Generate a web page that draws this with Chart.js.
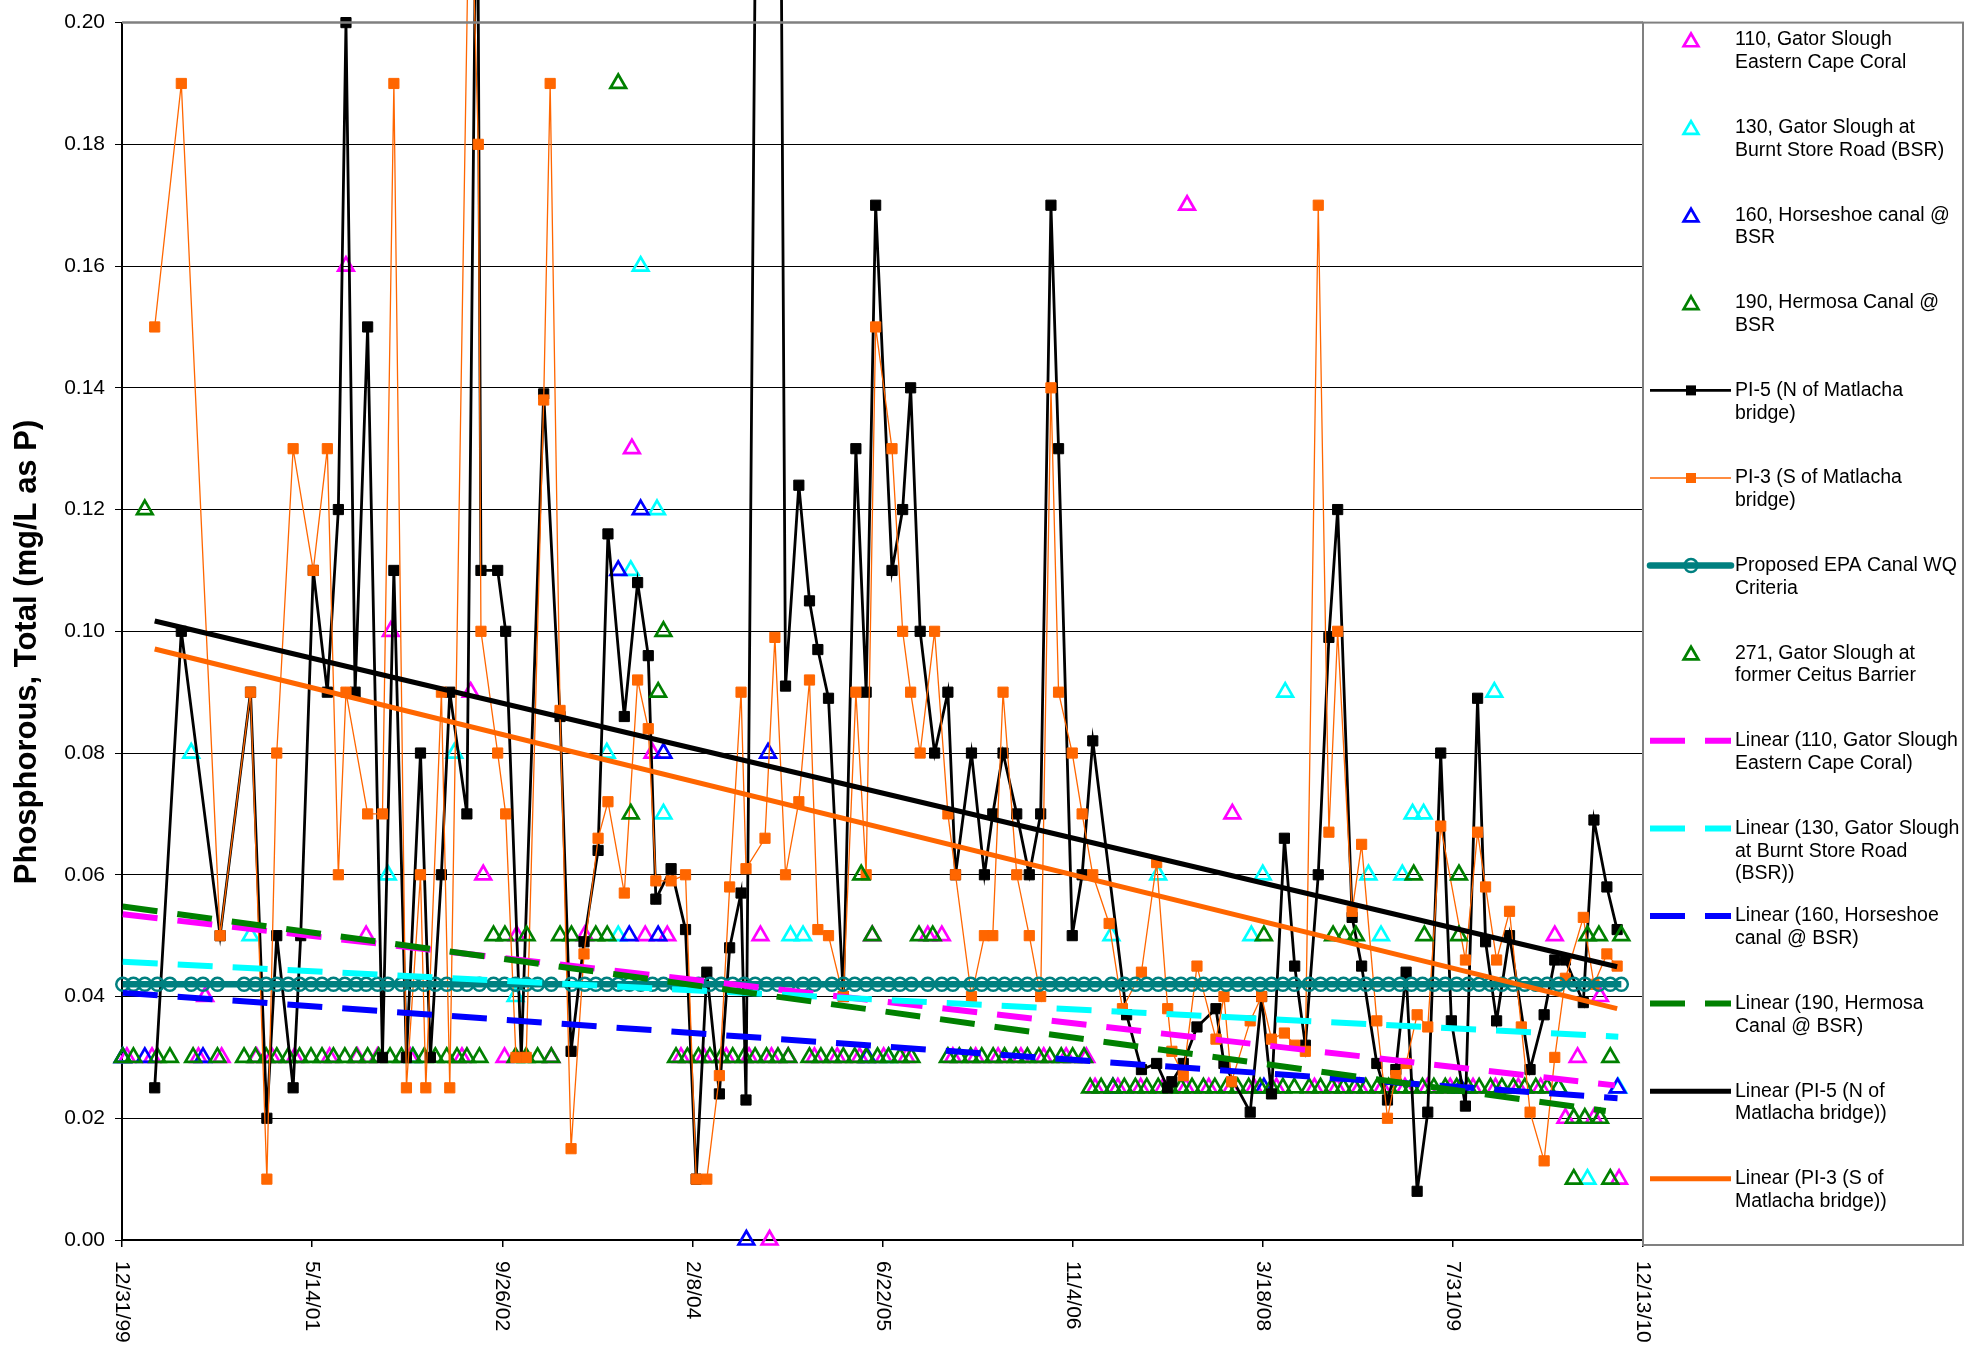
<!DOCTYPE html>
<html><head><meta charset="utf-8">
<script src="https://cdn.jsdelivr.net/npm/chart.js@4/dist/chart.umd.min.js"></script>
<style>html,body{margin:0;padding:0;background:#fff;overflow:hidden}</style>
</head><body>
<canvas id="c" width="1974" height="1345"></canvas>
<script>
// ---------------- DATA (x = Excel serial date, y = mg/L) ----------------
const xTickLabels = ['12/31/99','5/14/01','9/26/02','2/8/04','6/22/05','11/4/06','3/18/08','7/31/09','12/13/10'];
const xMin = 36525, xMax = 40525, xStep = 500;
const yMin = 0, yMax = 0.2, yStep = 0.02;

const seriesNames = [
  ['110, Gator Slough','Eastern Cape Coral'],
  ['130, Gator Slough at','Burnt Store Road (BSR)'],
  ['160, Horseshoe canal @','BSR'],
  ['190, Hermosa Canal @','BSR'],
  ['PI-5 (N of Matlacha','bridge)'],
  ['PI-3 (S of Matlacha','bridge)'],
  ['Proposed EPA Canal WQ','Criteria'],
  ['271, Gator Slough at','former Ceitus Barrier'],
  ['Linear (110, Gator Slough','Eastern Cape Coral)'],
  ['Linear (130, Gator Slough','at Burnt Store Road','(BSR))'],
  ['Linear (160, Horseshoe','canal @ BSR)'],
  ['Linear (190, Hermosa','Canal @ BSR)'],
  ['Linear (PI-5 (N of','Matlacha bridge))'],
  ['Linear (PI-3 (S of','Matlacha bridge))']
];

const s110Dates = [36527,36538,36604,36726,36744,36787,36879,36919,36979,37071,37114,37144,37167,37197,37232,37283,37419,37442,37475,
  37531,37563,37654,37742,37866,37901,37920,37959,37995,38055,38114,38174,38204,38228,38233,38277,
  38346,38406,38465,38498,38528,38588,38644,38681,38710,38770,38829,38889,38949,39008,39061,
  39084,39144,39204,39263,39323,39326,39383,39442,39445,39502,39561,39661,39720,39780,39839,39899,39958,40018,40078,40137,40197,40256,
  40293,40321,40353,40396,40412,40462];
const s110Vals = [0.03,0.03,0.03,0.03,0.04,0.03,0.03,0.03,0.03,0.03,0.16,0.03,0.05,0.03,0.10,0.03,0.03,0.09,0.06,
  0.03,0.05,0.03,0.05,0.13,0.05,0.08,0.05,0.03,0.03,0.03,0.03,0.05,0.00,0.03,0.03,
  0.03,0.03,0.03,0.05,0.03,0.03,0.05,0.05,0.03,0.03,0.03,0.03,0.03,0.03,0.03,
  0.025,0.025,0.025,0.025,0.025,0.17,0.025,0.025,0.07,0.025,0.025,0.025,0.025,0.025,0.025,0.025,0.025,0.025,0.025,0.025,0.025,0.025,
  0.05,0.02,0.03,0.02,0.04,0.01];

const s130Dates = [36527,36707,36863,37224,37290,37399,37560,37800,37830,37863,37889,37932,37949,38283,38316,38541,39127,39250,
  39495,39525,39584,39803,39836,39892,39919,39948,40134,40303,40379,40460];
const s130Vals = [0.03,0.08,0.05,0.06,0.03,0.08,0.04,0.08,0.05,0.11,0.16,0.12,0.07,0.05,0.05,0.03,0.05,0.06,
  0.05,0.06,0.09,0.06,0.05,0.06,0.07,0.07,0.09,0.025,0.01,0.025];

const s160Dates = [36527,36585,36738,37830,37859,37889,37935,37949,38167,38224,38485,39131,39528,40045,40458];
const s160Vals = [0.03,0.03,0.03,0.11,0.05,0.12,0.05,0.08,0.00,0.08,0.03,0.025,0.025,0.025,0.025];

const s190Dates = [36527,36555,36618,36651,36712,36776,
  36846,36876,36904,36932,36962,36992,37022,37051,37081,37111,37141,37171,37200,37230,37260,37290,37320,37349,37379,37406,37432,
  37465,37502,37532,37560,37588,37618,37654,37677,37707,37771,37801,
  37982,38012,38041,38071,38101,38131,38161,38190,38220,38250,38277,
  38333,38363,38392,38422,38452,38482,38498,38512,38541,38571,38601,38621,38657,
  38697,38727,38757,38786,38816,38846,38876,38906,38936,38965,38995,39025,39055,
  39071,39100,39131,39161,39190,39220,39250,39280,39310,39339,39369,39399,39429,39459,39488,39518,39548,39578,39608,
  39647,39677,39707,39737,39767,39796,39826,39856,39886,39916,39945,39975,40005,40035,40065,40094,40124,40154,40184,40214,40243,40273,40303,
  40343,40372,40412,40439];
const s190Vals = [0.03,0.03,0.03,0.03,0.03,0.03,
  0.03,0.03,0.03,0.03,0.03,0.03,0.03,0.03,0.03,0.03,0.03,0.03,0.03,0.03,0.03,0.03,0.03,0.03,0.03,0.03,0.03,
  0.03,0.05,0.05,0.03,0.03,0.03,0.03,0.05,0.05,0.05,0.05,
  0.03,0.03,0.03,0.03,0.03,0.03,0.03,0.03,0.03,0.03,0.03,
  0.03,0.03,0.03,0.03,0.03,0.03,0.05,0.03,0.03,0.03,0.03,0.05,0.05,
  0.03,0.03,0.03,0.03,0.03,0.03,0.03,0.03,0.03,0.03,0.03,0.03,0.03,
  0.025,0.025,0.025,0.025,0.025,0.025,0.025,0.025,0.025,0.025,0.025,0.025,0.025,0.025,0.025,0.025,0.025,0.025,0.025,
  0.025,0.025,0.025,0.025,0.025,0.025,0.025,0.025,0.025,0.025,0.025,0.025,0.025,0.025,0.025,0.025,0.025,0.025,0.025,0.025,0.025,0.025,0.025,
  0.02,0.02,0.02,0.01];

const s271Dates = [36585,37589,37830,37863,37935,37949,38469,39528,39710,39740,39770,39922,39950,40041,40041,40343,40379,40409,40439,40468];
const s271Vals  = [0.12,0.05,0.19,0.07,0.09,0.10,0.06,0.05,0.05,0.05,0.05,0.06,0.05,0.06,0.05,0.01,0.05,0.05,0.03,0.05];

const pi5Dates = [36611,36681,36783,36863,36906,36932,36975,36995,37028,37065,37094,37114,37138,37171,37210,37240,37273,37310,37336,37365,
  37387,37432,37459,37469,37513,37534,37575,37634,37677,37706,37740,37777,37803,37846,37881,37909,37929,37969,38007,38035,
  38063,38096,38123,38153,38166,38230,38270,38305,38333,38355,38383,38422,38455,38482,38507,38550,38578,38599,38624,38662,
  38697,38717,38759,38793,38815,38842,38878,38911,38941,38968,38988,39024,39050,39078,39167,39206,39246,39275,39286,39316,
  39352,39402,39423,39492,39522,39548,39582,39609,39637,39671,39699,39722,39760,39785,39825,39853,39875,39902,39931,39959,
  39993,40021,40058,40090,40111,40140,40174,40228,40265,40293,40321,40368,40396,40430,40457];
const pi5Vals = [0.025,0.100,0.050,0.090,0.020,0.050,0.025,0.050,0.110,0.090,0.120,0.200,0.090,0.150,0.030,0.110,0.030,0.080,0.030,0.060,
  0.090,0.070,0.240,0.110,0.110,0.100,0.030,0.139,0.086,0.031,0.049,0.064,0.116,0.086,0.108,0.096,0.056,0.061,0.051,0.010,
  0.044,0.024,0.048,0.057,0.023,0.520,0.091,0.124,0.105,0.097,0.089,0.040,0.130,0.090,0.170,0.110,0.120,0.140,0.100,0.080,
  0.090,0.060,0.080,0.060,0.070,0.080,0.070,0.060,0.070,0.170,0.130,0.050,0.060,0.082,0.037,0.028,0.029,0.025,0.026,0.029,
  0.035,0.038,0.029,0.021,0.040,0.024,0.066,0.045,0.032,0.060,0.099,0.120,0.053,0.045,0.029,0.023,0.028,0.044,0.008,0.021,
  0.080,0.036,0.022,0.089,0.049,0.036,0.050,0.028,0.037,0.046,0.046,0.039,0.069,0.058,0.051];

const pi3Dates = [36611,36681,36783,36863,36906,36932,36975,37028,37065,37094,37114,37171,37210,37240,37273,37310,37324,37365,37387,37440,
  37462,37469,37513,37534,37561,37588,37634,37651,37677,37706,37740,37777,37803,37846,37881,37909,37929,37969,38007,38035,
  38063,38096,38123,38153,38166,38216,38242,38270,38305,38333,38355,38383,38422,38455,38482,38507,38550,38578,38599,38624,
  38662,38697,38717,38759,38793,38815,38842,38878,38911,38941,38968,38988,39024,39050,39078,39121,39156,39206,39246,39275,
  39286,39316,39352,39402,39423,39443,39492,39522,39548,39582,39609,39637,39671,39699,39722,39760,39785,39825,39853,39875,
  39902,39931,39959,39993,40058,40090,40111,40140,40174,40205,40228,40265,40293,40321,40368,40396,40430,40457];
const pi3Vals = [0.150,0.190,0.050,0.090,0.010,0.080,0.130,0.110,0.130,0.060,0.090,0.070,0.070,0.190,0.025,0.060,0.025,0.090,0.025,0.230,
  0.180,0.100,0.080,0.070,0.030,0.030,0.138,0.190,0.087,0.015,0.047,0.066,0.072,0.057,0.092,0.084,0.059,0.059,0.060,0.010,
  0.010,0.027,0.058,0.090,0.061,0.066,0.099,0.060,0.072,0.092,0.051,0.050,0.040,0.090,0.060,0.150,0.130,0.100,0.090,0.080,
  0.100,0.070,0.060,0.040,0.050,0.050,0.090,0.060,0.050,0.040,0.140,0.090,0.080,0.070,0.060,0.052,0.038,0.044,0.062,0.038,
  0.031,0.027,0.045,0.033,0.040,0.026,0.036,0.040,0.033,0.034,0.032,0.031,0.170,0.067,0.100,0.054,0.065,0.036,0.020,0.027,
  0.029,0.037,0.035,0.068,0.046,0.067,0.058,0.046,0.054,0.035,0.021,0.013,0.030,0.043,0.053,0.042,0.047,0.045];

const epaCriterion = 0.042;

// Linear trendlines: [start date, end date], [start value, end value]
const trend110Dates = [36527, 40451], trend110Vals = [0.0535, 0.0254];
const trend130Dates = [36527, 40460], trend130Vals = [0.0457, 0.0334];
const trend160Dates = [36527, 40458], trend160Vals = [0.0406, 0.0233];
const trend190Dates = [36527, 40427], trend190Vals = [0.0548, 0.0212];
const trendPI5Dates = [36611, 40457], trendPI5Vals = [0.1017, 0.0449];
const trendPI3Dates = [36611, 40457], trendPI3Vals = [0.0971, 0.0380];

// ---------------- CHART ----------------
const FONT = "'Liberation Sans', Arial, Helvetica, sans-serif";
const C = {mag:'#FF00FF', cyan:'#00FFFF', blue:'#0000FF', green:'#008000', black:'#000000', orange:'#FF6600', teal:'#008080'};

function pts(d, v) { return d.map((x, i) => ({x: x, y: v[i]})); }

// EPA criterion plotted at the (station) sampling dates
const allStationDates = [].concat(s110Dates, s130Dates, s160Dates, s190Dates, s271Dates).sort((a, b) => a - b);
const epaDates = [];
allStationDates.forEach(d => { if (!epaDates.length || d - epaDates[epaDates.length - 1] >= 26) epaDates.push(d); });

const TRI_R = 9;
function triSet(label, d, v, color, order) {
  return {label, data: pts(d, v), showLine: false, pointStyle: 'triangle', pointRadius: TRI_R,
    pointBorderWidth: 2.7, pointBorderColor: color, pointBackgroundColor: 'rgba(0,0,0,0)',
    borderColor: color, backgroundColor: 'rgba(0,0,0,0)', clip: false, order};
}
function trendSet(label, d, v, color, dash, width, order) {
  return {label, data: pts(d, v), showLine: true, pointRadius: 0, borderColor: color, borderWidth: width,
    borderDash: dash, borderCapStyle: 'butt', fill: false, clip: false, order};
}

const datasets = [
  triSet(seriesNames[0].join(' '), s110Dates, s110Vals, C.mag, 20),
  triSet(seriesNames[1].join(' '), s130Dates, s130Vals, C.cyan, 19),
  triSet(seriesNames[2].join(' '), s160Dates, s160Vals, C.blue, 18),
  triSet(seriesNames[3].join(' '), s190Dates, s190Vals, C.green, 17),
  {label: seriesNames[4].join(' '), data: pts(pi5Dates, pi5Vals), showLine: true, borderColor: C.black, borderWidth: 2.8,
   pointStyle: 'rect', pointRadius: 7.2, pointBackgroundColor: C.black, pointBorderColor: C.black, pointBorderWidth: 1,
   tension: 0, clip: false, order: 16},
  {label: seriesNames[5].join(' '), data: pts(pi3Dates, pi3Vals), showLine: true, borderColor: C.orange, borderWidth: 1.3,
   pointStyle: 'rect', pointRadius: 7.2, pointBackgroundColor: C.orange, pointBorderColor: C.orange, pointBorderWidth: 1,
   tension: 0, clip: false, order: 15},
  {label: seriesNames[6].join(' '), data: epaDates.map(x => ({x, y: epaCriterion})), showLine: true, borderColor: C.teal,
   borderWidth: 6.5, pointStyle: 'circle', pointRadius: 6.5, pointBorderWidth: 2.5, pointBorderColor: C.teal,
   pointBackgroundColor: 'rgba(0,0,0,0)', clip: false, order: 14},
  triSet(seriesNames[7].join(' '), s271Dates, s271Vals, C.green, 13),
  trendSet(seriesNames[8].join(' '), trend110Dates, trend110Vals, C.mag, [35, 20], 6, 12),
  trendSet(seriesNames[9].join(' '), trend130Dates, trend130Vals, C.cyan, [35, 20], 6, 11),
  trendSet(seriesNames[10].join(' '), trend160Dates, trend160Vals, C.blue, [35, 20], 6, 10),
  trendSet(seriesNames[11].join(' '), trend190Dates, trend190Vals, C.green, [35, 20], 6, 9),
  trendSet(seriesNames[12].join(' '), trendPI5Dates, trendPI5Vals, C.black, [], 5, 8),
  trendSet(seriesNames[13].join(' '), trendPI3Dates, trendPI3Vals, C.orange, [], 5, 7)
];

// legend symbol descriptions (same order as seriesNames)
const legendSymbols = [
  {t:'tri', c:C.mag}, {t:'tri', c:C.cyan}, {t:'tri', c:C.blue}, {t:'tri', c:C.green},
  {t:'line', c:C.black, w:2.8, m:'sq'}, {t:'line', c:C.orange, w:1.3, m:'sq'},
  {t:'line', c:C.teal, w:6.5, m:'circ'}, {t:'tri', c:C.green},
  {t:'dash', c:C.mag}, {t:'dash', c:C.cyan}, {t:'dash', c:C.blue}, {t:'dash', c:C.green},
  {t:'line', c:C.black, w:5}, {t:'line', c:C.orange, w:5}
];

function drawTri(ctx, x, y, r, color, lw) {
  ctx.beginPath();
  let a = 0;
  ctx.moveTo(x + Math.sin(a) * r, y - Math.cos(a) * r);
  a += 2 * Math.PI / 3; ctx.lineTo(x + Math.sin(a) * r, y - Math.cos(a) * r);
  a += 2 * Math.PI / 3; ctx.lineTo(x + Math.sin(a) * r, y - Math.cos(a) * r);
  ctx.closePath();
  ctx.strokeStyle = color; ctx.lineWidth = lw; ctx.setLineDash([]); ctx.stroke();
}

const deco = {
  id: 'deco',
  beforeDraw(chart) {
    const c = chart.ctx; c.save(); c.fillStyle = '#fff'; c.fillRect(0, 0, chart.width, chart.height); c.restore();
  },
  afterDraw(chart) {
    const ctx = chart.ctx, ca = chart.chartArea, xs = chart.scales.x;
    ctx.save();
    // plot area top border
    ctx.strokeStyle = '#808080'; ctx.lineWidth = 2.5;
    ctx.beginPath(); ctx.moveTo(ca.left, ca.top); ctx.lineTo(ca.right, ca.top); ctx.stroke();

    // x tick labels (rotated, reading downward)
    ctx.fillStyle = '#000'; ctx.font = '21px ' + FONT; ctx.textAlign = 'left'; ctx.textBaseline = 'middle';
    xs.ticks.forEach((t, i) => {
      const px = xs.getPixelForValue(t.value);
      ctx.save(); ctx.translate(px, ca.bottom + 21); ctx.rotate(Math.PI / 2);
      ctx.fillText(xTickLabels[i] || '', 0, 0); ctx.restore();
    });

    // y axis title
    ctx.save(); ctx.translate(27, 652); ctx.rotate(-Math.PI / 2);
    ctx.font = 'bold 31px ' + FONT; ctx.textAlign = 'center'; ctx.textBaseline = 'middle';
    ctx.fillText('Phosphorous, Total (mg/L as P)', 0, 0); ctx.restore();

    // legend box
    const L = ca.right, R = 1963, T = ca.top, B = 1245;
    ctx.strokeStyle = '#808080'; ctx.lineWidth = 2;
    ctx.strokeRect(L, T, R - L, B - T);
    const symX = 1691, lx0 = 1650, lx1 = 1731, txtX = 1735, firstY = 40, step = 87.6, lineH = 22.8;
    ctx.font = '19.5px ' + FONT; ctx.textAlign = 'left'; ctx.textBaseline = 'middle';
    seriesNames.forEach((lines, i) => {
      const y = firstY + i * step;
      const s = legendSymbols[i];
      ctx.save();
      if (s.t === 'tri') {
        drawTri(ctx, symX, y + 2, 8.5, s.c, 2.7);
      } else if (s.t === 'line' || s.t === 'dash') {
        ctx.strokeStyle = s.c; ctx.lineWidth = s.t === 'dash' ? 6 : s.w;
        ctx.setLineDash(s.t === 'dash' ? [35, 20] : []);
        ctx.lineCap = (s.m === 'circ') ? 'round' : 'butt';
        ctx.beginPath(); ctx.moveTo(lx0, y); ctx.lineTo(lx1, y); ctx.stroke();
        ctx.setLineDash([]);
        if (s.m === 'sq') { ctx.fillStyle = s.c; ctx.fillRect(symX - 5, y - 5, 10, 10); }
        if (s.m === 'circ') { ctx.lineWidth = 2.5; ctx.beginPath(); ctx.arc(symX, y, 6.5, 0, 2 * Math.PI); ctx.stroke(); }
      }
      ctx.restore();
      ctx.fillStyle = '#000';
      lines.forEach((ln, k) => ctx.fillText(ln, txtX, y + k * lineH));
    });
    ctx.restore();
  }
};

new Chart(document.getElementById('c').getContext('2d'), {
  type: 'scatter',
  data: {datasets},
  options: {
    responsive: false, animation: false, devicePixelRatio: 1,
    layout: {padding: {left: 0, right: 331, top: 18, bottom: 0}},
    plugins: {legend: {display: false}, tooltip: {enabled: false}, title: {display: false}},
    elements: {line: {tension: 0}},
    scales: {
      x: {type: 'linear', min: xMin, max: xMax,
          ticks: {stepSize: xStep, display: false},
          grid: {drawOnChartArea: false, drawTicks: true, tickLength: 7, color: '#000', lineWidth: 1.5},
          border: {color: '#000', width: 2},
          afterFit: s => { s.height = 105; }},
      y: {type: 'linear', min: yMin, max: yMax,
          ticks: {stepSize: yStep, callback: v => Number(v).toFixed(2), color: '#000', font: {family: FONT, size: 21}, padding: 10},
          grid: {color: '#000', lineWidth: 1, tickLength: 7},
          border: {color: '#000', width: 2},
          afterFit: s => { s.width = 122; }}
    }
  },
  plugins: [deco]
});
</script>
</body></html>
